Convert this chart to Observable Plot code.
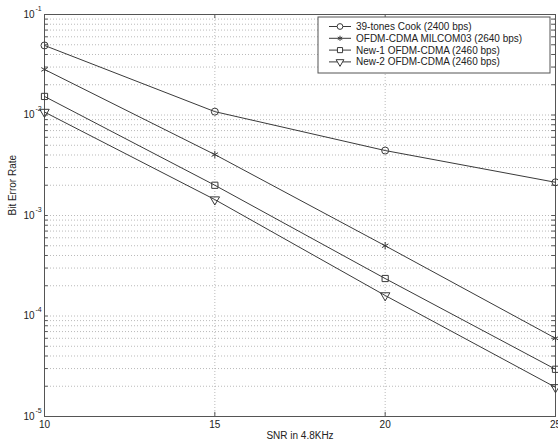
<!DOCTYPE html>
<html><head><meta charset="utf-8">
<script src="https://cdn.jsdelivr.net/npm/d3@7"></script>
<script src="https://cdn.jsdelivr.net/npm/@observablehq/plot@0.6"></script>
<style>
body{margin:0;background:#fff;}
#wrap{position:relative;width:558px;height:446px;}
</style></head>
<body><div id="wrap"></div>
<script>
const snr = [10, 15, 20, 25];
const seriesNames = [
  "39-tones Cook (2400 bps)",
  "OFDM-CDMA MILCOM03 (2640 bps)",
  "New-1 OFDM-CDMA (2460 bps)",
  "New-2 OFDM-CDMA (2460 bps)"
];
const cookBER = [0.0492, 0.0108, 0.00443, 0.00214];
const milcomBER = [0.0284, 0.00404, 0.00050, 0.000060];
const new1BER = [0.0153, 0.00200, 0.000236, 0.0000295];
const new2BER = [0.0107, 0.00144, 0.000160, 0.0000195];
const symbols = ["circle", "asterisk", "square", "triangle"];
const rotations = [0, 0, 0, 180];
const xTicks = [10, 15, 20, 25];
const decades = [1e-1, 1e-2, 1e-3, 1e-4, 1e-5];
const xLabel = "SNR in 4.8KHz";
const yLabel = "Bit Error Rate";

const allSeries = [cookBER, milcomBER, new1BER, new2BER];
const data = allSeries.flatMap((vals, i) => vals.map((v, j) => ({snr: snr[j], ber: v, s: seriesNames[i], k: i})));
const minors = [];
for (const d of decades.slice(1)) for (let m = 2; m <= 9; m++) minors.push(d * m);

const font = "Liberation Sans, Arial, sans-serif";
const lineColor = "#3a3a3a";
const gridColor = "#a8a8a8";

const chart = Plot.plot({
  width: 558, height: 446,
  marginLeft: 44, marginRight: 3, marginTop: 14, marginBottom: 30,
  style: {fontFamily: font, background: "#fff"},
  x: {domain: [10, 25], axis: null},
  y: {type: "log", domain: [1e-5, 1e-1], axis: null},
  marks: [
    Plot.ruleY(minors, {stroke: gridColor, strokeDasharray: "1,2", strokeWidth: 0.8}),
    Plot.ruleY(decades, {stroke: gridColor, strokeDasharray: "1,2", strokeWidth: 0.8}),
    Plot.ruleX([15, 20], {stroke: gridColor, strokeDasharray: "1,2", strokeWidth: 0.8}),
    Plot.ruleY(minors.concat(decades), {x1: 10, x2: 10.11, stroke: "#555"}),
    Plot.ruleY(minors.concat(decades), {x1: 24.89, x2: 25, stroke: "#555"}),
    Plot.ruleX([15, 20], {y1: 1e-5, y2: 1.1e-5, stroke: "#555"}),
    Plot.ruleX([15, 20], {y1: 1e-1, y2: 0.091, stroke: "#555"}),
    Plot.frame({stroke: "#555"}),
    Plot.line(data, {x: "snr", y: "ber", z: "s", stroke: lineColor, strokeWidth: 1}),
    ...symbols.map((sym, i) => Plot.dot(data.filter(d => d.k === i), {
      x: "snr", y: "ber", symbol: () => sym, r: 3.5, stroke: lineColor, fill: "none", strokeWidth: 1, rotate: rotations[i]
    })),
    Plot.text(decades, {y: d => d, text: () => "10", frameAnchor: "left", textAnchor: "end", dx: -10, fontSize: 10, fill: "#222"}),
    Plot.text(decades, {y: d => d, text: d => String(Math.round(Math.log10(d))), frameAnchor: "left", textAnchor: "start", dx: -9, dy: -6, fontSize: 7, fill: "#222"}),
    Plot.text(xTicks, {x: d => d, text: d => String(d), frameAnchor: "bottom", dy: 11, fontSize: 10, fill: "#222"}),
    Plot.text([xLabel], {text: d => d, frameAnchor: "bottom", dy: 22, fontSize: 10, fill: "#222"}),
    Plot.text([yLabel], {text: d => d, frameAnchor: "left", rotate: -90, dx: -32, fontSize: 10, fill: "#222"})
  ]
});

document.getElementById("wrap").appendChild(chart);

// Legend drawn inside the SVG
const svg = d3.select(chart);
const symMap = {circle: d3.symbolCircle, asterisk: d3.symbolAsterisk || d3.symbolCross, square: d3.symbolSquare, triangle: d3.symbolTriangle};
const lg = svg.append("g").attr("transform", "translate(318,17)").attr("text-anchor", "start");
lg.append("rect").attr("width", 232).attr("height", 56).attr("fill", "#fff").attr("stroke", "#555");
seriesNames.forEach((name, i) => {
  const y = 9.5 + i * 11.8;
  const row = lg.append("g").attr("transform", `translate(0,${y})`);
  row.append("line").attr("x1", 11).attr("x2", 33).attr("y1", 0).attr("y2", 0).attr("stroke", lineColor);
  const sym = d3.symbol(symMap[symbols[i]], i === 1 ? 18 : 26);
  row.append("path").attr("d", sym()).attr("transform", `translate(22,0) rotate(${rotations[i]})`)
    .attr("fill", "#fff").attr("stroke", lineColor);
  row.append("text").attr("x", 38).attr("y", 0).attr("dy", "0.35em").attr("font-size", 10)
    .attr("text-anchor", "start")
    .attr("font-family", font).attr("fill", "#222").text(name);
});
</script>
</body></html>
